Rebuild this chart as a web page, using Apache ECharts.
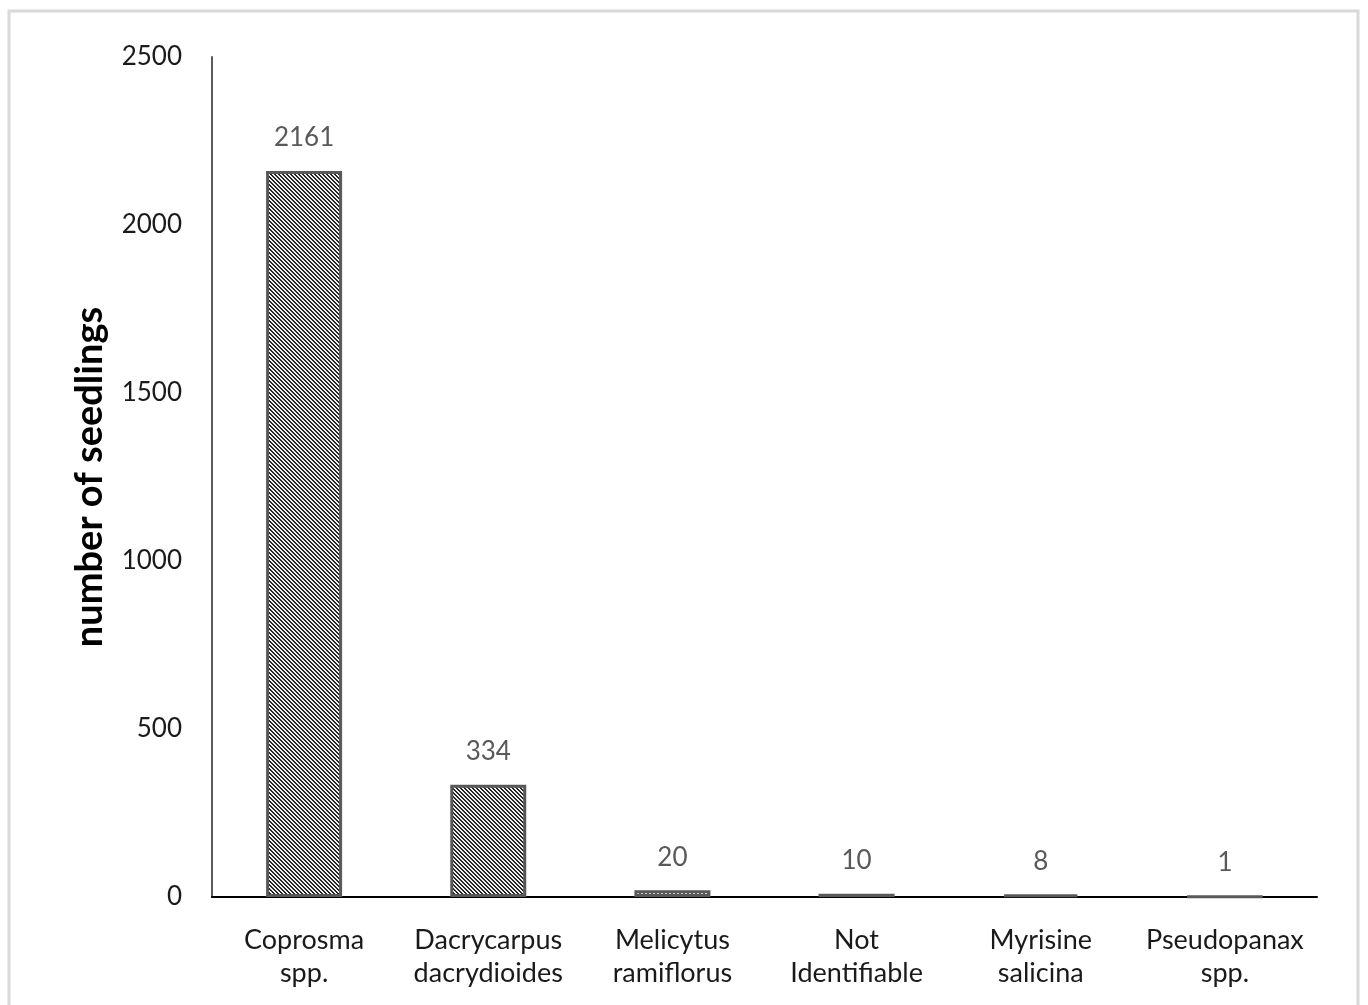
<!DOCTYPE html>
<html><head><meta charset="utf-8">
<script src="https://cdn.jsdelivr.net/npm/echarts@6/dist/echarts.min.js"></script>
<style>html,body{margin:0;padding:0;background:#fff}#c{width:1368px;height:1005px}</style>
</head><body><div id="c"></div>
<script>
const categories = ['Coprosma\nspp.', 'Dacrycarpus\ndacrydioides', 'Melicytus\nramiflorus', 'Not\nIdentifiable', 'Myrisine\nsalicina', 'Pseudopanax\nspp.'];
const seedlings = [2161, 334, 20, 10, 8, 1];
const yTicks = [0, 500, 1000, 1500, 2000, 2500];

function stripe() {
  const c = document.createElement('canvas'); c.width = 4; c.height = 4;
  const g = c.getContext('2d');
  g.fillStyle = '#f0f0f0'; g.fillRect(0,0,4,4);
  g.fillStyle = '#262626';
  for (let y = 0; y < 4; y++) for (let x = 0; x < 4; x++) {
    const d = ((x - y) % 4 + 4) % 4;
    if (d === 0 || d === 1) g.fillRect(x, y, 1, 1);
  }
  return c;
}
function dots() {
  const c = document.createElement('canvas'); c.width = 4; c.height = 4;
  const g = c.getContext('2d');
  g.fillStyle = '#595959'; g.fillRect(0,0,4,4);
  g.fillStyle = '#ffffff'; g.fillRect(1,1,2,1);
  return c;
}
const sp = stripe(), dt = dots();
const fills = [{image: sp, repeat: 'repeat'}, {image: sp, repeat: 'repeat'}, {image: dt, repeat: 'repeat'}, '#595959', '#595959', '#595959'];

const font = 'Lato, "Open Sans", sans-serif';
const chart = echarts.init(document.getElementById('c'));
chart.setOption({
  animation: false,
  backgroundColor: '#fff',
  graphic: [{type: 'rect', shape: {x: 9, y: 11, width: 1349, height: 1000}, style: {fill: 'none', stroke: '#d9d9d9', lineWidth: 3}, silent: true}],
  grid: {left: 212, top: 57, right: 51, bottom: 108},
  xAxis: {
    type: 'category', data: categories,
    axisLine: {lineStyle: {color: '#000', width: 2}},
    axisTick: {show: false},
    axisLabel: {color: '#1a1a1a', fontSize: 27, fontFamily: font, lineHeight: 33, margin: 27, interval: 0}
  },
  yAxis: {
    type: 'value', min: 0, max: 2500, interval: 500,
    name: 'number of seedlings', nameLocation: 'middle', nameGap: 103,
    nameTextStyle: {fontSize: 38, fontWeight: 'bold', color: '#000', fontFamily: font},
    splitLine: {show: false},
    axisLine: {show: true, lineStyle: {color: '#595959', width: 2}},
    axisTick: {show: false},
    axisLabel: {color: '#1a1a1a', fontSize: 26, fontFamily: font, margin: 30,
      customValues: yTicks, formatter: v => String(v)}
  },
  series: [{
    type: 'bar', barWidth: 76, z: 5,
    data: seedlings.map((v, i) => ({value: v, itemStyle: {color: fills[i]}})),
    itemStyle: {borderColor: '#595959', borderWidth: 3},
    label: {show: true, position: 'top', distance: 20, color: '#595959', fontSize: 26, fontFamily: font}
  }]
});
</script></body></html>
